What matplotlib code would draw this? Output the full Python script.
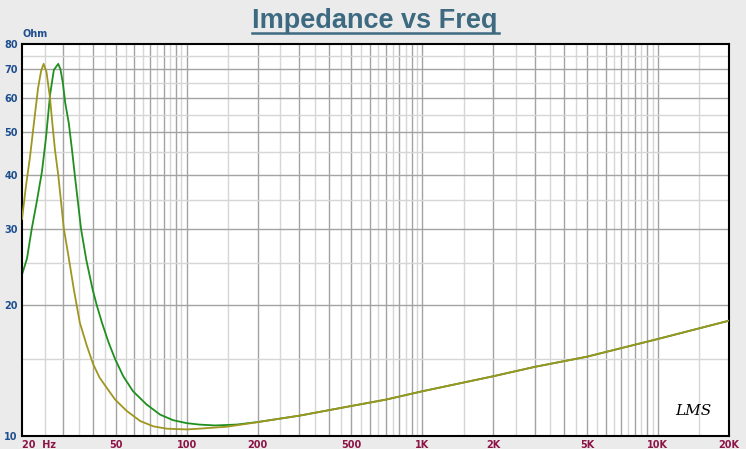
# Impedance vs frequency sweep, two measurements on log-log axes.

import matplotlib
matplotlib.use("Agg")
import matplotlib.pyplot as plt
from matplotlib.lines import Line2D

# olive trace (lower resonance)
freq_a = [20, 20.8, 21.6, 22.5, 23.4, 24.1, 24.7, 25.4, 26.3, 26.9, 27.6,
          28.5, 30.1, 31.4, 33.2, 35.2, 37.7, 40.1, 42.7, 45.7, 49.7, 55.6,
          63.5, 72.2, 82.3, 100, 113, 148, 199, 303, 500, 700, 1000, 2000,
          3000, 5000, 10000, 20000]
imp_a = [31.6, 37.7, 43.7, 52.9, 63.3, 69.3, 72.0, 69.0, 60.0, 52.5, 45.6,
         39.9, 30.0, 26.2, 21.7, 18.2, 16.1, 14.6, 13.6, 12.9, 12.1, 11.4,
         10.8, 10.5, 10.37, 10.33, 10.37, 10.48, 10.73, 11.12, 11.7, 12.1,
         12.65, 13.7, 14.4, 15.2, 16.7, 18.4]

# green trace (higher resonance)
freq_b = [20, 21.0, 22.0, 23.1, 24.3, 25.3, 26.3, 27.3, 28.5, 29.1, 29.8,
          30.5, 31.6, 32.6, 33.5, 35.6, 37.5, 39.9, 41.5, 43.7, 46.6, 49.7,
          53.8, 59.2, 67.5, 77.0, 87.5, 100, 113, 132, 163, 199, 303, 500,
          700, 1000, 2000, 3000, 5000, 10000, 20000]
imp_b = [23.5, 25.6, 30.0, 34.6, 40.6, 48.8, 61.0, 69.7, 72.0, 70.0, 65.2,
         58.6, 52.5, 45.6, 39.9, 30.0, 25.4, 21.7, 20.0, 18.2, 16.4, 15.0,
         13.7, 12.65, 11.8, 11.18, 10.85, 10.68, 10.6, 10.55, 10.6, 10.74,
         11.12, 11.7, 12.1, 12.65, 13.7, 14.4, 15.2, 16.7, 18.4]

x_ticks = [20, 50, 100, 200, 500, 1000, 2000, 5000, 10000, 20000]
x_labels = ["20  Hz", "50", "100", "200", "500", "1K", "2K", "5K", "10K", "20K"]
y_ticks = [10, 20, 30, 40, 50, 60, 70, 80]

BG = "#ebebeb"
BLUE = "#1f4f8f"
MAROON = "#8c1446"

fig = plt.figure(figsize=(7.46, 4.49), dpi=100, facecolor=BG)
ax = fig.add_axes([0.0295, 0.030, 0.9475, 0.872])
ax.set_facecolor("white")
ax.set_xscale("log")
ax.set_yscale("log")
ax.set_xlim(20, 20000)
ax.set_ylim(10, 80)

# grid: darker at 1..9 per decade, lighter at the half steps
for dec in [10, 100, 1000, 10000]:
    for m in range(1, 10):
        v = m * dec
        if 20 < v < 20000:
            ax.axvline(v, color="#a3a3a3", lw=1.0, zorder=0)
        h = (m + 0.5) * dec
        if 20 < h < 20000:
            ax.axvline(h, color="#d6d6d6", lw=1.0, zorder=0)
for v in y_ticks[1:-1]:
    ax.axhline(v, color="#a3a3a3", lw=1.0, zorder=0)
for v in [15, 25, 35, 45, 55, 65, 75]:
    ax.axhline(v, color="#d6d6d6", lw=1.0, zorder=0)

ax.plot(freq_a, imp_a, color="#9e9620", lw=1.3, zorder=3)
ax.plot(freq_b, imp_b, color="#1f8f1f", lw=1.3, zorder=2)

ax.minorticks_off()
ax.set_xticks(x_ticks, x_labels)
ax.set_yticks(y_ticks, [str(v) for v in y_ticks])
ax.tick_params(axis="both", length=0)
ax.tick_params(axis="x", pad=3, labelsize=7, labelcolor=MAROON)
ax.tick_params(axis="y", pad=3, labelsize=7, labelcolor=BLUE)
for lab in ax.get_xticklabels() + ax.get_yticklabels():
    lab.set_fontweight("bold")
ax.get_xticklabels()[0].set_horizontalalignment("left")

for sp in ax.spines.values():
    sp.set_linewidth(1.5)
    sp.set_color("black")

ax.text(0.0, 1.012, "Ohm", transform=ax.transAxes, fontsize=7,
        fontweight="bold", color=BLUE, ha="left", va="bottom")

# title with underline
fig.text(0.5025, 0.9385, "Impedance vs Freq", ha="center", va="baseline",
         fontsize=19.5, fontweight="bold", color="#3d6a80",
         family=["Liberation Sans", "DejaVu Sans"])
fig.add_artist(Line2D([252 / 746, 499 / 746], [1 - 32.5 / 449, 1 - 32.5 / 449],
                      color="#3d6a80", lw=1.8))

ax.text(0.975, 0.045, "LMS", transform=ax.transAxes, ha="right", va="bottom",
        fontsize=11, fontstyle="italic", color="black",
        family=["DejaVu Serif"])

fig.savefig("out.png", dpi=100, facecolor=BG)
